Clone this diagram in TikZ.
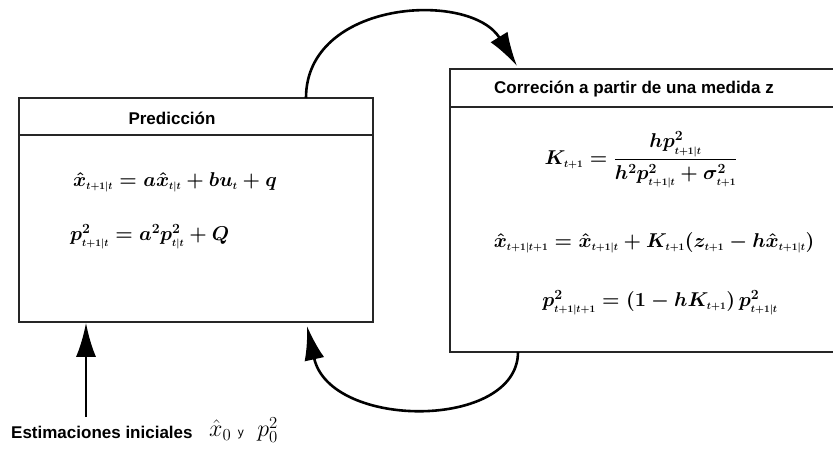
\documentclass[tikz,border=0pt]{standalone}
\usepackage{fix-cm}
\usepackage{amsmath}
\usepackage{fontspec}
\setsansfont{Liberation Sans}
\usetikzlibrary{arrows.meta}

\newcommand{\tsub}[1]{_{\scriptscriptstyle #1}}

\begin{document}
\begin{tikzpicture}[x=1pt, y=-1pt,
        box/.style={draw=black!85, line width=1.6pt, inner sep=0pt},
        title/.style={font=\fontsize{17}{20}\sffamily\bfseries},
        eqn/.style={font=\fontsize{20}{24}\selectfont\boldmath, inner sep=0pt},
        flow/.style={line width=2.6pt, -{Latex[length=34pt, width=20pt]}}]
    \useasboundingbox (0,0) rectangle (833,449);

    % cajas
    \node[box, minimum width=354pt, minimum height=224pt] (pred) at (196,210) {};
    \node[box, minimum width=385pt, minimum height=283pt] (corr) at (642.5,210.5) {};
    \draw[line width=1.6pt, black!85] ([yshift=-38pt]pred.north west) -- ([yshift=-38pt]pred.north east);
    \draw[line width=1.6pt, black!85] ([yshift=-39pt]corr.north west) -- ([yshift=-39pt]corr.north east);

    \node[title] (predt) at (172,118) {Predicción};
    \node[title] (corrt) at (634,89) {Correción a partir de una medida z};

    % prediccion
    \node[eqn, anchor=west] (xpred) at (73,182) {$\hat{x}\tsub{t+1|t} = a\hat{x}\tsub{t|t} + bu\tsub{t} + q$};
    \node[eqn, anchor=west] (ppred) at (70,237) {$p^2\tsub{t+1|t} = a^2 p^2\tsub{t|t} + Q$};

    % correccion
    \node[eqn] (gain) at (641,160) {$K\tsub{t+1} = \dfrac{h p^2\tsub{t+1|t}}{h^2 p^2\tsub{t+1|t} + \sigma^2\tsub{t+1}}$};
    \node[eqn] (xcorr) at (654,243) {$\hat{x}\tsub{t+1|t+1} = \hat{x}\tsub{t+1|t} + K\tsub{t+1}(z\tsub{t+1} - h\hat{x}\tsub{t+1|t})$};
    \node[eqn] (pcorr) at (660,303) {$p^2\tsub{t+1|t+1} = (1 - hK\tsub{t+1})\,p^2\tsub{t+1|t}$};

    % estimaciones iniciales
    \node[title, anchor=west, inner sep=0pt] (init) at (11,432) {Estimaciones iniciales};
    \node[anchor=west, inner sep=0pt, font=\fontsize{24}{28}\selectfont] (initv) at (209,430) {$\hat{x}_0$\;{\large\sffamily y}\;\;$p_0^2$};

    \coordinate (initup) at (86,417);
    \coordinate (predout) at (306,98);
    \coordinate (corrin) at (517,66);
    \coordinate (corrout) at (518,352);
    \coordinate (predin) at (307,326);

    \draw[flow] (initup) -- (pred.south -| initup);
    \draw[flow] (predout) .. controls (306,0) and (470,-10) .. (corrin);
    \draw[flow] (corrout) .. controls (518,430) and (330,430) .. (predin);
\end{tikzpicture}
\end{document}
